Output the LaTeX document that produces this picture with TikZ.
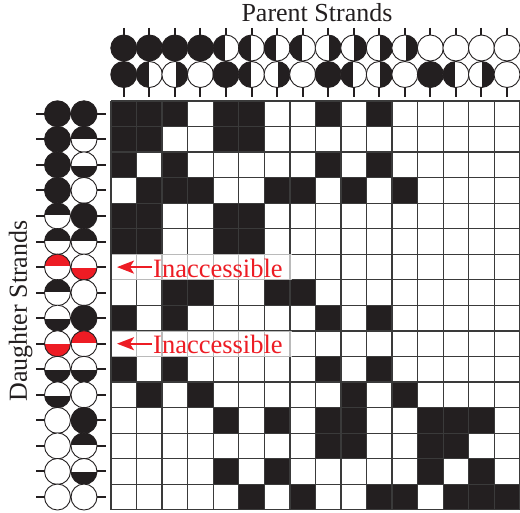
\documentclass[tikz,border=0pt]{standalone}
\usepackage{fontspec}
\setmainfont{Liberation Serif}
\usetikzlibrary{arrows.meta}
\definecolor{ink}{HTML}{231F20}
\definecolor{gridc}{HTML}{3A3A3A}
\definecolor{accred}{HTML}{ED1C24}
\tikzset{
  cellfill/.style={fill=ink},
  gridline/.style={draw=gridc, line width=1.3pt},
  tickline/.style={draw=ink, line width=2pt},
  ring/.style={draw=ink, line width=0.9pt},
  lbl/.style={font=\fontsize{26}{28}\selectfont, inner sep=0pt, text=ink},
  redlbl/.style={font=\fontsize{26.5}{28}\selectfont, inner sep=0pt, text=accred},
  redarrow/.style={draw=accred, line width=1.8pt, -{Stealth[length=17pt,width=13pt,inset=4pt]}},
  veil/.style={fill=white, opacity=0.65},
}
% #1 cx, #2 cy, #3 type (0 empty,1 full,2 left,3 right,4 top,5 bottom), #4 colour
\newcommand{\strandcirc}[4]{%
  \fill[white] (#1,#2) circle (13pt);
  \begin{scope}
    \clip (#1,#2) circle (13pt);
    \ifcase#3\relax
    \or \fill[#4] (#1-14,#2-14) rectangle (#1+14,#2+14);
    \or \fill[#4] (#1-14,#2-14) rectangle (#1-0.7,#2+14);
    \or \fill[#4] (#1+0.7,#2-14) rectangle (#1+14,#2+14);
    \or \fill[#4] (#1-14,#2-14) rectangle (#1+14,#2-0.7);
    \or \fill[#4] (#1-14,#2+0.7) rectangle (#1+14,#2+14);
    \fi
  \end{scope}
  \draw[ring] (#1,#2) circle (13pt);
}
\begin{document}
\begin{tikzpicture}[x=1pt,y=-1pt]
\useasboundingbox (0,0) rectangle (520,513);
\fill[white] (0,0) rectangle (520,513);
% grid cells
\foreach \rowv [count=\r from 0] in {
 {1,1,1,0,1,1,0,0,1,0,1,0,0,0,0,0},
 {1,1,0,0,1,1,0,0,0,0,0,0,0,0,0,0},
 {1,0,1,0,0,0,0,0,1,0,1,0,0,0,0,0},
 {0,1,1,1,0,0,1,1,0,1,0,1,0,0,0,0},
 {1,1,0,0,1,1,0,0,0,0,0,0,0,0,0,0},
 {1,1,0,0,1,1,0,0,0,0,0,0,0,0,0,0},
 {0,0,0,0,0,0,0,0,0,0,0,0,0,0,0,0},
 {0,0,1,1,0,0,1,1,0,0,0,0,0,0,0,0},
 {1,0,1,0,0,0,0,0,1,0,1,0,0,0,0,0},
 {0,0,0,0,0,0,0,0,0,0,0,0,0,0,0,0},
 {1,0,1,0,0,0,0,0,1,0,1,0,0,0,0,0},
 {0,1,0,1,0,0,0,0,0,1,0,1,0,0,0,0},
 {0,0,0,0,1,0,1,0,1,1,0,0,1,1,1,0},
 {0,0,0,0,0,0,0,0,1,1,0,0,1,1,0,0},
 {0,0,0,0,1,0,1,0,0,0,0,0,1,0,1,0},
 {0,0,0,0,0,1,0,1,0,0,1,1,0,1,1,1}}
{
  \foreach \v [count=\c from 0] in \rowv {
    \ifnum\v=1
      \fill[cellfill] (111+25.55*\c,101+25.55*\r) rectangle ++(25.55,25.55);
    \fi
  }
}
% grid lines
\foreach \k in {0,...,16} {
  \draw[gridline] (111+25.55*\k,101) -- (111+25.55*\k,509.8);
  \draw[gridline] (111,101+25.55*\k) -- (519.8,101+25.55*\k);
}
% veils behind labels
\fill[veil] (111.8,101+25.55*6-0.4) rectangle (292,101+25.55*7+0.4);
\fill[veil] (111.8,101+25.55*9-0.4) rectangle (292,101+25.55*10+0.4);
% parent strand ticks and circles
\foreach \i in {0,...,15} {
  \draw[tickline] (111+25.55*\i+12.775,28) -- (111+25.55*\i+12.775,97);
}
\foreach \t [count=\i from 0] in {1,1,1,1,2,2,2,2,3,3,3,3,0,0,0,0} {
  \pgfmathsetmacro{\cx}{111+25.55*\i+12.775}
  \strandcirc{\cx}{48}{\t}{ink}
}
\foreach \t [count=\i from 0] in {1,2,3,0,1,2,3,0,1,2,3,0,1,2,3,0} {
  \pgfmathsetmacro{\cx}{111+25.55*\i+12.775}
  \strandcirc{\cx}{74.5}{\t}{ink}
}
% daughter strand ticks and circles
\foreach \j in {0,...,15} {
  \draw[tickline] (36,101+25.55*\j+12.775) -- (106,101+25.55*\j+12.775);
}
\foreach \t/\col [count=\j from 0] in {1/ink,1/ink,1/ink,1/ink,4/ink,4/ink,4/accred,4/ink,5/ink,5/accred,5/ink,5/ink,0/ink,0/ink,0/ink,0/ink} {
  \pgfmathsetmacro{\cy}{101+25.55*\j+12.775}
  \strandcirc{57.5}{\cy}{\t}{\col}
}
\foreach \t/\col [count=\j from 0] in {1/ink,4/ink,5/ink,0/ink,1/ink,4/ink,5/accred,0/ink,1/ink,4/accred,5/ink,0/ink,1/ink,4/ink,5/ink,0/ink} {
  \pgfmathsetmacro{\cy}{101+25.55*\j+12.775}
  \strandcirc{84}{\cy}{\t}{\col}
}
% labels
\node[lbl, anchor=base] (parent) at (317,21.7) {Parent Strands};
\node[lbl, rotate=90, anchor=base] (daughter) at (27,311) {Daughter Strands};
\node[redlbl, anchor=base west] (inaccA) at (153,277.4) {Inaccessible};
\node[redlbl, anchor=base west] (inaccB) at (153,354.0) {Inaccessible};
\coordinate (arrA) at (117,267.1);
\coordinate (arrB) at (117,343.7);
\coordinate (tailA) at (152,267.1);
\coordinate (tailB) at (152,343.7);
\draw[redarrow] (tailA) -- (arrA);
\draw[redarrow] (tailB) -- (arrB);
\end{tikzpicture}
\end{document}
